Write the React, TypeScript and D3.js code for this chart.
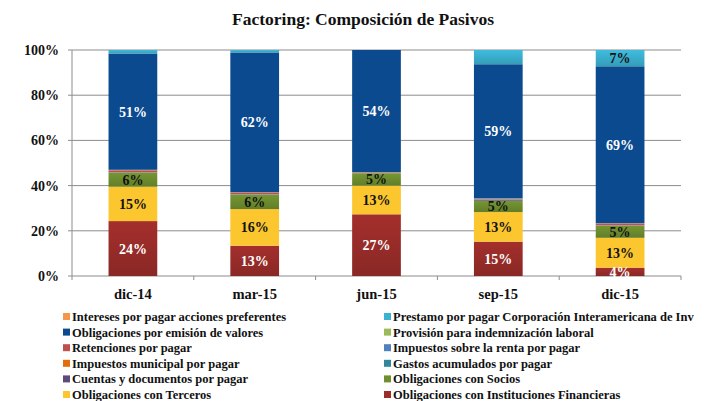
import React from "react";
import * as d3 from "d3";

const categories = ["dic-14", "mar-15", "jun-15", "sep-15", "dic-15"];

// stacking order: bottom to top
const seriesNames = [
  "Obligaciones con Instituciones Financieras",
  "Obligaciones con Terceros",
  "Obligaciones con Socios",
  "Cuentas y documentos por pagar",
  "Gastos acumulados por pagar",
  "Impuestos municipal por pagar",
  "Impuestos sobre la renta por pagar",
  "Retenciones por pagar",
  "Provisión para indemnización laboral",
  "Obligaciones por emisión de valores",
  "Prestamo por pagar Corporación Interamericana de Inv",
  "Intereses por pagar acciones preferentes",
];

const instituciones = [24.3, 13.4, 27.3, 15.2, 3.7];
const terceros = [15.2, 16.2, 12.7, 13.1, 13.2];
const socios = [6.2, 6.4, 5.4, 5.0, 5.4];
const cuentas = [0.1, 0.1, 0.0, 0.4, 0.1];
const gastos = [0.0, 0.0, 0.0, 0.1, 0.0];
const impMunicipal = [0.0, 0.0, 0.0, 0.0, 0.0];
const impRenta = [0.1, 0.1, 0.0, 0.2, 0.1];
const retenciones = [0.9, 0.8, 0.3, 0.3, 0.8];
const provision = [0.2, 0.1, 0.2, 0.1, 0.1];
const emision = [51.4, 61.8, 54.1, 59.3, 69.4];
const prestamo = [1.6, 1.1, 0.0, 6.3, 7.2];
const intereses = [0.0, 0.0, 0.0, 0.0, 0.0];

const seriesValues = [
  instituciones, terceros, socios, cuentas, gastos, impMunicipal,
  impRenta, retenciones, provision, emision, prestamo, intereses,
];

const seriesColors = [
  "#9B2D2A", "#FCC62E", "#6F8F2F", "#604A7B", "#31859C", "#E46C0A",
  "#4F81BD", "#C0504D", "#9BBB59", "#0B4A8F", "#3CB2D2", "#F79646",
];

// legend order (row-wise, two columns)
const legendOrder = [11, 10, 9, 8, 7, 6, 5, 4, 3, 2, 1, 0];

// which series carry data labels (and points without labels)
const labeledSeries = [0, 1, 2, 9, 10];
const hiddenLabels = [[10, 0], [10, 1], [10, 3]];
const whiteLabelSeries = [0, 9];

const yTicks = [0, 0.2, 0.4, 0.6, 0.8, 1.0];

export default function App() {
  const W = 713, H = 401;
  const left = 72, right = 681, top = 50, bottom = 276;
  const x = d3.scaleBand().domain(categories).range([left, right]).paddingInner(0.6).paddingOuter(0.3);
  const xOuter = d3.scaleBand().domain(categories).range([left, right]);
  const y = d3.scaleLinear().domain([0, 1]).range([bottom, top]);

  const rows = categories.map((c, i) => {
    const o: any = { cat: c };
    seriesNames.forEach((s, j) => (o[s] = seriesValues[j][i] / 100));
    return o;
  });
  const stacked = d3.stack().keys(seriesNames)(rows);
  const fmt = (v: number) => d3.format(".0f")(v * 100) + "%";
  const font = "'Liberation Serif', 'DejaVu Serif', serif";

  return (
    <svg width={W} height={H} style={{ display: "block", position: "absolute", left: 0, top: 0 }} fontFamily={font}>
      <defs>
        {seriesColors.map((c, i) => (
          <linearGradient key={i} id={"g" + i} x1="0" y1="0" x2="0" y2="1">
            <stop offset="0" stopColor={d3.color(c)!.brighter(0.15).toString()} />
            <stop offset="1" stopColor={d3.color(c)!.darker(0.35).toString()} />
          </linearGradient>
        ))}
      </defs>
      <rect width={W} height={H} fill="#fff" />
      <text x={363} y={25} textAnchor="middle" fontSize={17.5} fontWeight="bold" fill="#111">
        Factoring: Composición de Pasivos
      </text>
      {yTicks.map((t) => (
        <g key={t}>
          <line x1={left - 4} x2={right} y1={y(t)} y2={y(t)} stroke="#8c8c8c" strokeWidth={1} />
          <text x={59} y={y(t) + 5} textAnchor="end" fontSize={14} fontWeight="bold" fill="#111">
            {d3.format(".0%")(t)}
          </text>
        </g>
      ))}
      <line x1={left} x2={left} y1={top} y2={bottom + 4} stroke="#8c8c8c" />
      {categories.map((c, i) => (
        <g key={c}>
          <line x1={xOuter(c)! + xOuter.bandwidth()} x2={xOuter(c)! + xOuter.bandwidth()} y1={bottom} y2={bottom + 4} stroke="#8c8c8c" />
          <text x={xOuter(c)! + xOuter.bandwidth() / 2} y={299} textAnchor="middle" fontSize={14.5} fontWeight="bold" fill="#111">
            {c}
          </text>
        </g>
      ))}
      {stacked.map((layer, j) =>
        layer.map((d, i) => {
          const h = y(d[0]) - y(d[1]);
          if (h <= 0) return null;
          const grad = j === 0 || j === 10 || j === 2;
          return (
            <rect key={j + "-" + i} x={x(categories[i])} width={x.bandwidth()} y={y(d[1])} height={h}
              fill={grad ? `url(#g${j})` : seriesColors[j]} />
          );
        })
      )}
      {stacked.map((layer, j) =>
        labeledSeries.includes(j)
          ? layer.map((d, i) => {
              const v = d[1] - d[0];
              if (v <= 0) return null;
              if (hiddenLabels.some(([s, c]) => s === j && c === i)) return null;
              return (
                <text key={"l" + j + "-" + i} x={x(categories[i])! + x.bandwidth() / 2} y={(y(d[0]) + y(d[1])) / 2 + 5}
                  textAnchor="middle" fontSize={14} fontWeight="bold"
                  fill={whiteLabelSeries.includes(j) ? "#fff" : "#111"}>
                  {fmt(v)}
                </text>
              );
            })
          : null
      )}
      {legendOrder.map((s, k) => {
        const col = k % 2, row = Math.floor(k / 2);
        const lx = col === 0 ? 63 : 384;
        const ly = 317 + row * 15.6;
        return (
          <g key={s}>
            <rect x={lx} y={ly - 4} width={7} height={7} fill={seriesColors[s]} />
            <text x={lx + 9} y={ly + 4} fontSize={12.5} fontWeight="bold" fill="#111">
              {seriesNames[s]}
            </text>
          </g>
        );
      })}
    </svg>
  );
}
